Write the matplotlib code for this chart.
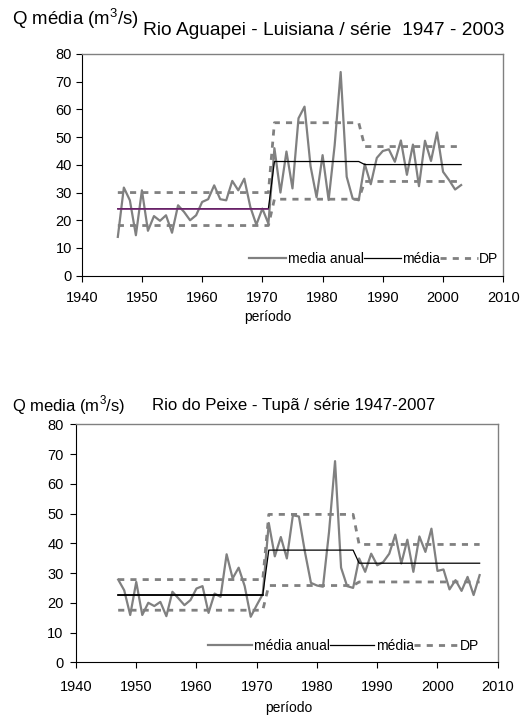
"""
Vazoes medias anuais - Rio Aguapei e Rio do Peixe
"""
import numpy as np
import matplotlib
matplotlib.use('Agg')
import matplotlib.pyplot as plt

plt.rcParams['font.family'] = ['Liberation Sans', 'DejaVu Sans']
plt.rcParams['mathtext.fontset'] = 'custom'
plt.rcParams['mathtext.rm'] = 'Liberation Sans'

# Rio Aguapei - Luisiana (1946 - 2003)
years_aguapei = np.arange(1946, 2004)
q_aguapei = [14.0, 31.8, 27.2, 14.6, 30.8, 16.2, 21.5, 19.8, 21.8, 15.5,
             25.4, 23.0, 20.0, 21.8, 26.6, 27.6, 32.6, 27.6, 27.2, 34.2,
             30.8, 35.0, 24.8, 18.4, 24.2, 18.8, 46.0, 30.0, 44.8, 31.5,
             56.8, 61.0, 39.5, 28.3, 43.5, 27.3, 47.0, 73.5, 35.7, 27.8,
             27.2, 40.3, 33.0, 42.5, 45.0, 45.6, 41.1, 48.8, 36.4, 47.3,
             32.3, 48.7, 41.4, 51.7, 37.5, 34.5, 31.1, 32.7]
periods_aguapei = [(1946, 1971), (1972, 1986), (1987, 2003)]
mean_aguapei = [24.2, 41.2, 40.1]
dp_low_aguapei = [18.1, 27.6, 34.0]
dp_high_aguapei = [30.0, 55.2, 46.6]

# Rio do Peixe - Tupa (1947 - 2007)
years_peixe = np.arange(1947, 2008)
q_peixe = [27.8, 24.2, 15.9, 27.0, 15.9, 20.0, 18.9, 20.3, 15.5, 23.7,
           21.5, 19.2, 20.9, 24.8, 25.6, 16.6, 23.1, 22.0, 36.3, 28.2,
           31.8, 25.6, 15.3, 19.2, 22.9, 46.8, 35.6, 42.1, 34.9, 49.4,
           49.0, 37.1, 26.7, 25.8, 25.4, 43.8, 67.6, 31.8, 25.6, 25.0,
           34.9, 30.4, 36.5, 32.6, 33.7, 36.5, 42.9, 33.2, 41.2, 30.4,
           42.3, 37.1, 44.9, 30.7, 31.2, 24.5, 27.6, 24.0, 28.7, 22.6,
           29.3]
periods_peixe = [(1947, 1971), (1972, 1986), (1987, 2007)]
mean_peixe = [22.6, 37.7, 33.3]
dp_low_peixe = [17.5, 25.8, 27.0]
dp_high_peixe = [27.8, 49.7, 39.6]


def by_period(years, periods, values):
    """Constant value per period, one point per year."""
    out = np.zeros(len(years))
    for (y0, y1), v in zip(periods, values):
        out[(years >= y0) & (years <= y1)] = v
    return out


def draw_panel(ax, years, q, periods, mean, dp_low, dp_high, first_color, label_annual,
               xpad, ypad, handlelen, anchor_x):
    gray = '#808080'
    dots = (0, (2.2, 2.2))
    ax.plot(years, by_period(years, periods, dp_low), color=gray, lw=2.0, ls=dots, zorder=2)
    ax.plot(years, by_period(years, periods, dp_high), color=gray, lw=2.0, ls=dots, zorder=2,
            label='DP')
    ax.plot(years, q, color=gray, lw=1.6, zorder=3, label=label_annual)
    m = by_period(years, periods, mean)
    ax.plot(years, m, color='black', lw=0.9, zorder=4, label='média')
    first = years <= periods[0][1]
    ax.plot(years[first], m[first], color=first_color, lw=1.2, zorder=5)

    ax.set_xlim(1940, 2010)
    ax.set_ylim(0, 80)
    ax.set_xticks(range(1940, 2011, 10))
    ax.set_yticks(range(0, 81, 10))
    ax.tick_params(labelsize=10.5, length=4, width=0.8, direction='out')
    ax.tick_params(axis='x', pad=xpad)
    ax.tick_params(axis='y', pad=ypad)
    for side in ['top', 'right']:
        ax.spines[side].set_color(gray)
        ax.spines[side].set_linewidth(1.0)
    for side in ['left', 'bottom']:
        ax.spines[side].set_color('black')
        ax.spines[side].set_linewidth(0.8)

    handles, labels = ax.get_legend_handles_labels()
    order = [labels.index(label_annual), labels.index('média'), labels.index('DP')]
    ax.legend([handles[i] for i in order], [labels[i] for i in order], ncol=3, loc='lower right',
              frameon=False, fontsize=10, handlelength=handlelen, handletextpad=0.1,
              columnspacing=0.0, borderaxespad=0.3, bbox_to_anchor=(anchor_x, 0.0))


fig = plt.figure(figsize=(5.26, 7.17), dpi=100)

ax1 = fig.add_axes([0.1553, 0.6155, 0.8015, 0.3092])
draw_panel(ax1, years_aguapei, q_aguapei, periods_aguapei, mean_aguapei,
           dp_low_aguapei, dp_high_aguapei, '#7B2C7B', 'media anual',
           xpad=7, ypad=3, handlelen=2.7, anchor_x=1.012)
fig.text(0.0228, 0.9651, r'Q média (m$^3$/s)', fontsize=13.4, va='baseline', ha='left')
fig.text(0.272, 0.9512, 'Rio Aguapei - Luisiana / série  1947 - 2003', fontsize=13.8,
         va='baseline', ha='left')
fig.text(0.5095, 0.5527, 'período', fontsize=10, va='baseline', ha='center')

ax2 = fig.add_axes([0.1445, 0.0763, 0.8017, 0.332])
draw_panel(ax2, years_peixe, q_peixe, periods_peixe, mean_peixe,
           dp_low_peixe, dp_high_peixe, 'black', 'média anual',
           xpad=9, ypad=5, handlelen=3.2, anchor_x=0.978)
fig.text(0.0228, 0.4258, r'Q media (m$^3$/s)', fontsize=12, va='baseline', ha='left')
fig.text(0.289, 0.4282, 'Rio do Peixe - Tupã / série 1947-2007', fontsize=12.1,
         va='baseline', ha='left')
fig.text(0.549, 0.0074, 'período', fontsize=10, va='baseline', ha='center')

plt.savefig('out.png', dpi=100, facecolor='w')
